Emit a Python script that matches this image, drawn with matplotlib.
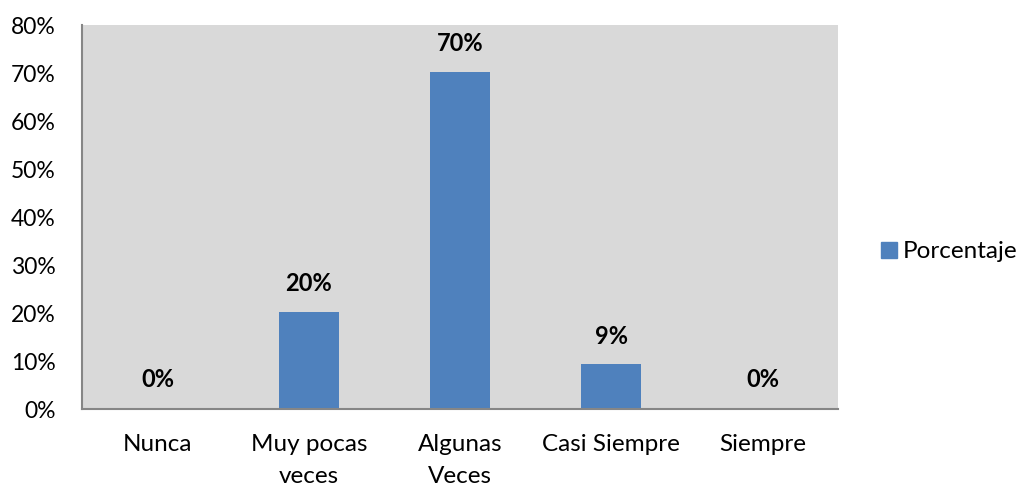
import numpy as np
import matplotlib.pyplot as plt
from matplotlib.patches import Patch

# data
categorias = ["Nunca", "Muy pocas\nveces", "Algunas\nVeces", "Casi Siempre", "Siempre"]
porcentaje = [0.0, 0.203, 0.703, 0.093, 0.0]
yticks = [0.0, 0.1, 0.2, 0.3, 0.4, 0.5, 0.6, 0.7, 0.8]

plt.rcParams['font.family'] = ['Lato', 'DejaVu Sans']

fig = plt.figure(figsize=(10.21, 4.88), dpi=100)
ax = fig.add_axes([82/1021, 1 - 409/488, (838-82)/1021, (409-25)/488])
ax.set_facecolor('#D9D9D9')

x = np.arange(len(categorias))
bars = ax.bar(x, porcentaje, width=0.4, color='#4F81BD', label='Porcentaje')

for xi, v in zip(x, porcentaje):
    ax.annotate(f"{round(v*100):.0f}%", (xi, v), xytext=(0, 12 if v > 0 else 13),
                textcoords='offset points', ha='center', va='bottom',
                fontsize=17, fontweight='bold')

ax.set_xlim(-0.5, len(categorias) - 0.5)
ax.set_ylim(0, 0.8)
ax.set_yticks(yticks)
ax.set_yticklabels([f"{int(round(t*100))}%" for t in yticks], fontsize=16.5)
ax.set_xticks(x)
ax.set_xticklabels(categorias, fontsize=17.5, linespacing=1.65)
ax.tick_params(axis='x', length=0, pad=18)
ax.tick_params(axis='y', length=0, pad=19)

for s in ['top', 'right']:
    ax.spines[s].set_visible(False)
for s in ['left', 'bottom']:
    ax.spines[s].set_color('#868686')
    ax.spines[s].set_linewidth(1.5)

fig.legend(handles=[Patch(color='#4F81BD', label='Porcentaje')],
           loc='center left', bbox_to_anchor=(859/1021, 1 - 252/488),
           frameon=False, fontsize=17.5, handlelength=0.65, handleheight=0.65,
           handletextpad=0.25)

fig.savefig('out.png', dpi=100)
